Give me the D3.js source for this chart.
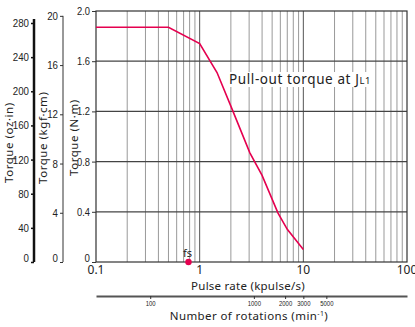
<!DOCTYPE html>
<html>
<head>
<meta charset="utf-8">
<script src="https://cdn.jsdelivr.net/npm/d3@7"></script>
<style>
  body { margin: 0; background: #fff; }
  svg { display: block; }
  .text { font-family: "Noto Sans", "Liberation Sans", Arial, sans-serif; fill: #222; }
  .narrow { font-family: "Liberation Sans", Arial, sans-serif; fill: #222; }
</style>
</head>
<body>
<div id="chart"></div>
<script>
// Pull-out torque curve (pulse rate in kpulse/s, torque in N·m)
const pulseRate = [0.1, 0.5, 1.0, 1.47, 2.05, 3.05, 4.0, 5.7, 7.0, 10];
const torque = [1.87, 1.87, 1.74, 1.51, 1.22, 0.87, 0.69, 0.39, 0.26, 0.10];

// Tick labels
const nmTicks = [0, 0.4, 0.8, 1.2, 1.6, 2.0];
const kgfTicks = [0, 4, 8, 12, 16, 20];
const ozTicks = [0, 40, 80, 120, 160, 200, 240, 280];
const pulseTicks = [0.1, 1, 10, 100];
const rpmTicks = [100, 1000, 2000, 3000, 5000];

const fsPulse = 0.78;
const rpmPerKpps = 300; // 1.8° step, 200 steps/rev
const kgfToNm = 0.0980665;

const width = 415, height = 327;
const plot = { left: 96, right: 407, top: 11, bottom: 262 };

const svg = d3.select("#chart").append("svg")
    .attr("width", width)
    .attr("height", height);

// Scales
const xScale = d3.scaleLog().domain([0.1, 100]).range([plot.left, plot.right]);
const yScale = d3.scaleLinear().domain([0, 2]).range([plot.bottom, plot.top]);
const kgfScale = d3.scaleLinear().domain([0, 2 / kgfToNm]).range([plot.bottom, plot.top]);
const ozScale = d3.scaleLinear().domain([0, 280]).range([plot.bottom, 23]);
const rpmScale = d3.scaleLog()
    .domain([0.1 * rpmPerKpps, 100 * rpmPerKpps])
    .range([plot.left, plot.right]);

// condensed look: squeeze label to a width based on its characters
const squeeze = (digitW, dotW) => function () {
    const s = this.textContent;
    const dots = (s.match(/\./g) || []).length;
    this.setAttribute("textLength", (s.length - dots) * digitW + dots * dotW);
    this.setAttribute("lengthAdjust", "spacingAndGlyphs");
};

// Vertical grid (minor then major)
const minorX = [];
[0.1, 1, 10].forEach(dec => { for (let k = 2; k <= 9; k++) minorX.push(dec * k); });
svg.append("g").selectAll("line")
    .data(minorX)
    .join("line")
    .attr("x1", d => xScale(d)).attr("x2", d => xScale(d))
    .attr("y1", plot.top).attr("y2", plot.bottom)
    .attr("stroke", "#999").attr("stroke-width", 1);
svg.append("g").selectAll("line")
    .data([1, 10])
    .join("line")
    .attr("x1", d => xScale(d)).attr("x2", d => xScale(d))
    .attr("y1", plot.top).attr("y2", plot.bottom)
    .attr("stroke", "#555").attr("stroke-width", 1);

// Horizontal grid
svg.append("g").selectAll("line")
    .data(nmTicks.slice(1, -1))
    .join("line")
    .attr("x1", plot.left).attr("x2", plot.right)
    .attr("y1", d => yScale(d)).attr("y2", d => yScale(d))
    .attr("stroke", "#444").attr("stroke-width", 1.2);

// Frame
svg.append("rect")
    .attr("x", plot.left).attr("y", plot.top)
    .attr("width", plot.right - plot.left).attr("height", plot.bottom - plot.top)
    .attr("fill", "none").attr("stroke", "#333").attr("stroke-width", 1.2);

// Legend text with white background
const legend = svg.append("g");
const legendText = legend.append("text")
    .attr("x", 229).attr("y", 84)
    .attr("class", "text")
    .style("font-size", "13.5px")
    .style("letter-spacing", "0.6px");
legendText.append("tspan").text("Pull-out torque at J");
legendText.append("tspan").style("font-size", "9.5px").text("L1");
const lb = legendText.node().getBBox();
legend.insert("rect", "text")
    .attr("x", lb.x - 2).attr("y", 72)
    .attr("width", lb.width + 4).attr("height", 15)
    .attr("fill", "#fff");

// Curve
const curve = pulseRate.map((p, i) => [p, torque[i]]);
svg.append("path")
    .datum(curve)
    .attr("d", d3.line().x(d => xScale(d[0])).y(d => yScale(d[1])))
    .attr("fill", "none")
    .attr("stroke", "#e5004f")
    .attr("stroke-width", 1.6);

function styleTicks(axis, color) {
    axis.selectAll("text")
        .attr("class", "narrow")
        .style("font-size", "11px")
        .attr("fill", "#222")
        .attr("dy", d => d === 0 ? "-0.05em" : "0.32em")
        .each(squeeze(5.4, 2.2));
    axis.selectAll("line").attr("stroke", color);
}

// N·m axis (plot left edge)
const nmAxis = svg.append("g")
    .attr("transform", `translate(${plot.left},0)`)
    .call(d3.axisLeft(yScale).tickValues(nmTicks).tickFormat(d => d === 0 ? "0" : d3.format(".1f")(d)).tickSize(4).tickPadding(2));
nmAxis.select(".domain").remove();
styleTicks(nmAxis, "#333");

// kgf·cm axis
const kgfAxis = svg.append("g")
    .attr("transform", "translate(63,0)")
    .call(d3.axisLeft(kgfScale).tickValues(kgfTicks).tickSize(3).tickPadding(2).tickSizeOuter(0));
kgfAxis.select(".domain").attr("stroke", "#333").attr("stroke-width", 1)
    .attr("d", `M0,${kgfScale(20)}V${kgfScale(0)}`);
styleTicks(kgfAxis, "#333");

// oz·in axis
const ozAxis = svg.append("g")
    .attr("transform", "translate(34,0)")
    .call(d3.axisLeft(ozScale).tickValues(ozTicks).tickSize(3).tickPadding(2).tickSizeOuter(0));
ozAxis.select(".domain").attr("stroke", "#111").attr("stroke-width", 2.5)
    .attr("d", `M0,${ozScale(280) - 4}V${ozScale(0)}`);
styleTicks(ozAxis, "#111");
ozAxis.selectAll("line").attr("stroke-width", 1.5);

// Axis titles (rotated)
const yTitles = [
    { x: 13, y: 183, label: "Torque (oz·in)" },
    { x: 47, y: 184, label: "Torque (kgf·cm)" },
    { x: 78, y: 176, label: "Torque (N·m)" }
];
svg.append("g").selectAll("text")
    .data(yTitles)
    .join("text")
    .attr("class", "text")
    .attr("transform", d => `translate(${d.x},${d.y}) rotate(-90)`)
    .attr("text-anchor", "start")
    .style("font-size", "11.5px")
    .style("letter-spacing", "0.55px")
    .text(d => d.label);

// Pulse rate axis labels
svg.append("g").selectAll("text")
    .data(pulseTicks)
    .join("text")
    .attr("class", "text")
    .attr("x", d => xScale(d))
    .attr("y", 274)
    .attr("text-anchor", "middle")
    .style("font-size", "12px")
    .text(d => d3.format("~g")(d));

svg.append("text")
    .attr("class", "text")
    .attr("x", 248).attr("y", 290)
    .attr("text-anchor", "middle")
    .style("font-size", "11.5px")
    .style("letter-spacing", "0.25px")
    .text("Pulse rate (kpulse/s)");

// fs marker
svg.append("circle")
    .attr("cx", xScale(fsPulse)).attr("cy", yScale(0))
    .attr("r", 3.2).attr("fill", "#e5004f");
svg.append("text")
    .attr("class", "text")
    .attr("x", xScale(fsPulse) - 1).attr("y", 257)
    .attr("text-anchor", "middle")
    .style("font-size", "11px")
    .text("fs");

// Number of rotations axis
const rpmAxis = svg.append("g")
    .attr("transform", "translate(0,296)")
    .call(d3.axisBottom(rpmScale).tickValues(rpmTicks).tickFormat(d => d).tickSize(3).tickPadding(2).tickSizeOuter(0));
rpmAxis.select(".domain").attr("stroke", "#555").attr("stroke-width", 2);
rpmAxis.selectAll("line").attr("stroke", "#333");
rpmAxis.selectAll("text")
    .attr("class", "narrow")
    .style("font-size", "6.5px")
    .attr("fill", "#222")
    .each(squeeze(3.3, 1.5));

const rpmTitle = svg.append("text")
    .attr("class", "text")
    .attr("x", 249).attr("y", 320)
    .attr("text-anchor", "middle")
    .style("font-size", "11.5px")
    .style("letter-spacing", "0.4px");
rpmTitle.append("tspan").text("Number of rotations (min");
rpmTitle.append("tspan").attr("dy", -4).style("font-size", "7px").text("-1");
rpmTitle.append("tspan").attr("dy", 4).text(")");
</script>
</body>
</html>
